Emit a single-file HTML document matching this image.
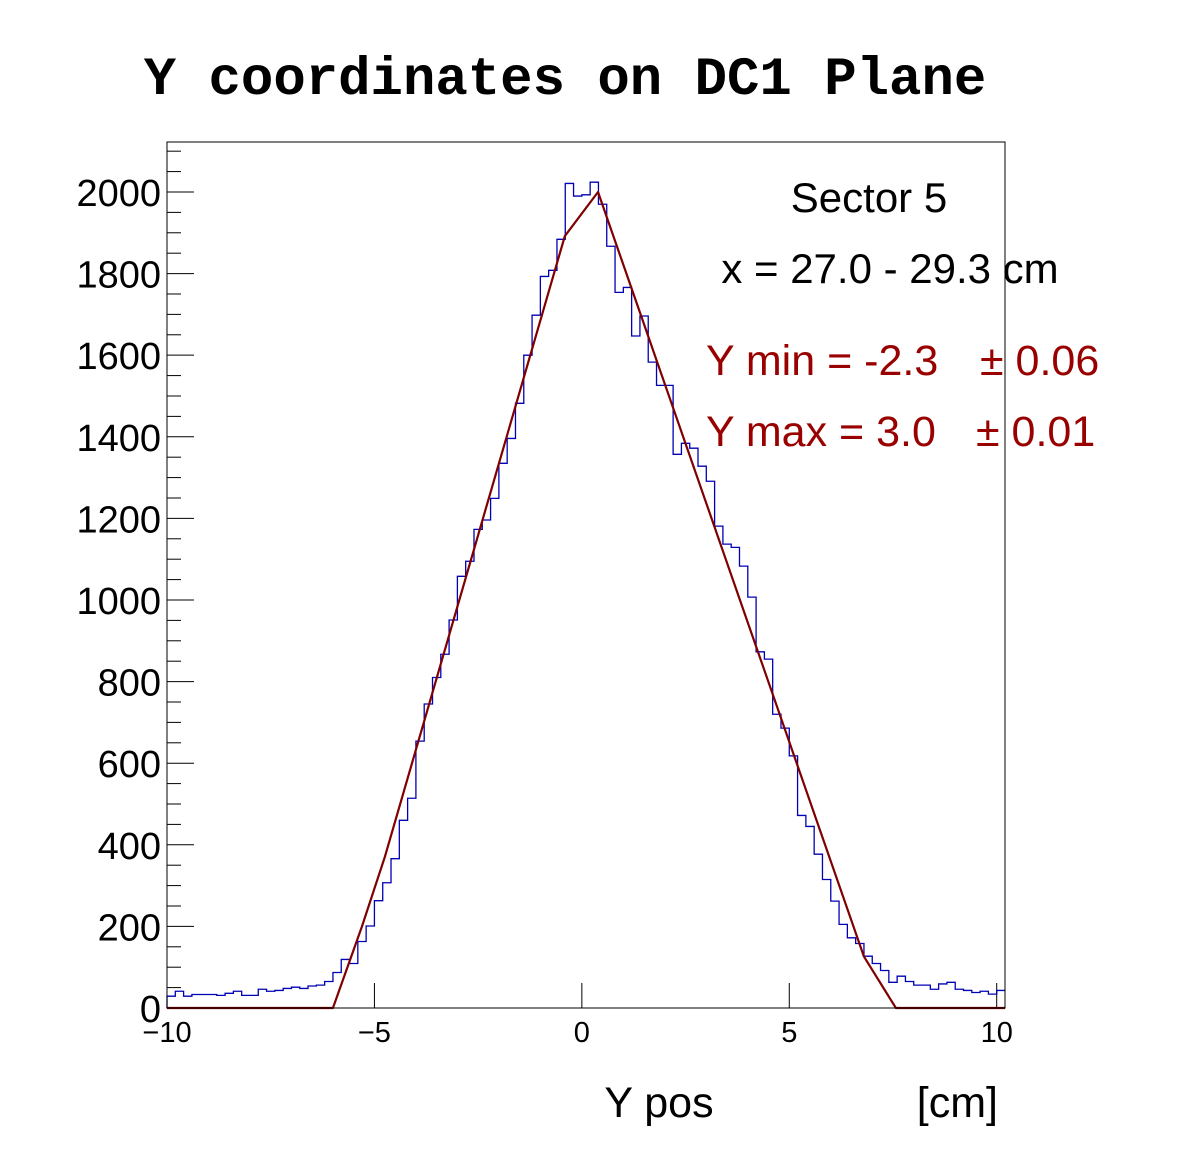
<!DOCTYPE html>
<html><head><meta charset="utf-8">
<style>
html,body{margin:0;padding:0;background:#fff;}
svg{display:block;font-family:"Liberation Sans",sans-serif;}
</style></head>
<body>
<svg id="chart" width="1196" height="1172" viewBox="0 0 1196 1172">
<rect width="1196" height="1172" fill="#fff"/>
<text x="565" y="94" text-anchor="middle" font-family="'Liberation Mono',monospace" font-weight="bold" font-size="54">Y coordinates on DC1 Plane</text>
<g id="axes"></g>
<g id="marks"></g>
<rect x="167" y="142" width="838" height="866" fill="none" stroke="#000" stroke-width="1"/>
<text x="869" y="212" text-anchor="middle" font-size="42">Sector 5</text>
<text x="890" y="283" text-anchor="middle" font-size="42">x = 27.0 - 29.3 cm</text>
<text x="706" y="375" font-size="43" fill="#990000">Y min = -2.3</text>
<text x="980" y="375" font-size="43" fill="#990000">± 0.06</text>
<text x="706" y="446" font-size="43" fill="#990000">Y max = 3.0</text>
<text x="976" y="446" font-size="43" fill="#990000">± 0.01</text>
<text x="659" y="1117" text-anchor="middle" font-size="43">Y pos</text>
<text x="998" y="1117" text-anchor="end" font-size="43">[cm]</text>
</svg>
<script>
const binStart = -10;
const binWidth = 0.2;
const counts = [29,41,29,33,33,33,31,36,41,31,31,46,41,43,48,51,48,54,56,65,
87,119,109,163,201,263,307,366,460,514,654,745,810,867,951,1058,1095,1173,1196,1249,
1335,1396,1482,1600,1698,1793,1808,1884,2021,1990,1993,2024,1970,1867,1754,1766,1647,1696,1583,1526,
1526,1357,1384,1372,1328,1291,1181,1137,1129,1083,1007,873,855,720,686,618,472,445,377,315,
262,205,172,158,127,109,92,63,78,65,56,56,46,59,63,46,43,38,41,34,43];
const fitX = [-6.0,-5.3,-4.75,-0.41,0.39,6.8,7.57,10.2];
const fitY = [0,200,370,1892,2000,126,0,0];
const xTicks = [-10,-5,0,5,10];
const xTickLabels = ["\u221210","\u22125","0","5","10"];
const yTicks = [0,200,400,600,800,1000,1200,1400,1600,1800,2000];
const xMin=-10, xMax=10.2, yMax=2122.5;
const L=167,R=1005,T=142,B=1008;
function sx(v){return L+(v-xMin)/(xMax-xMin)*(R-L);}
function sy(v){return B-v/yMax*(B-T);}
const NS="http://www.w3.org/2000/svg";
const axes=document.getElementById('axes');
const marks=document.getElementById('marks');
function mk(tag,attrs,parent){const e=document.createElementNS(NS,tag);for(const k in attrs)e.setAttribute(k,attrs[k]);parent.appendChild(e);return e;}
for(let v=0; v<=yMax; v+=50){
  const major = v%200===0;
  const t=mk('line',{x1:L,x2:L+(major?27:14),y1:sy(v),y2:sy(v),stroke:'#000','stroke-width':1},axes);
  
  
}
yTicks.forEach(v=>{
  const t=mk('text',{x:161,y:sy(v)+14,'text-anchor':'end','font-size':38},axes);
  t.textContent=String(v);
  
  
});
xTicks.forEach((v,i)=>{
  const t=mk('line',{x1:sx(v),x2:sx(v),y1:B,y2:B-25,stroke:'#000','stroke-width':1},axes);
  
  
  const l=mk('text',{x:sx(v),y:1042,'text-anchor':'middle','font-size':29},axes);
  l.textContent=xTickLabels[i];
  
  
});
let d='M'+sx(binStart)+','+sy(0);
counts.forEach((c,i)=>{
  const x0=sx(binStart+i*binWidth), x1=sx(binStart+(i+1)*binWidth);
  d+=' L'+x0+','+sy(c)+' L'+x1+','+sy(c);
});
const h=mk('path',{d:d,fill:'none',stroke:'#0000b4','stroke-width':1.3},marks);


let fd='M'+sx(xMin)+','+sy(0)+' L'+fitX.map((x,i)=>sx(x)+','+sy(fitY[i])).join(' L');
const f=mk('path',{d:fd,fill:'none',stroke:'#800000','stroke-width':2.2,'stroke-linejoin':'round'},marks);


</script>
</body></html>
